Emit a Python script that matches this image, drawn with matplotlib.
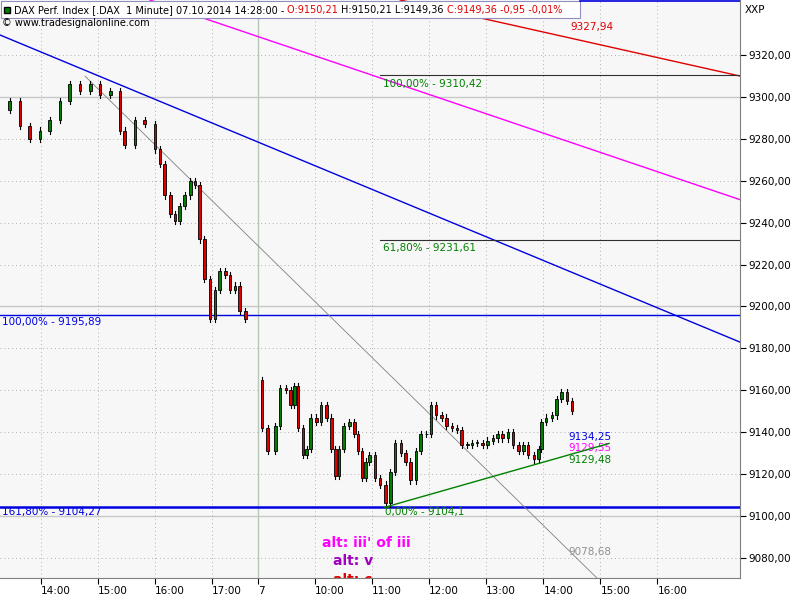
import matplotlib
matplotlib.use("Agg")
import matplotlib.pyplot as plt
import numpy as np

# Day 1 (06.10.2014): minutes relative to 14:00, close prices
day1_min = [-43,-33,-22,-12,-1,9,20,30,41,52,62,73,83,88,99,109,120,125,130,136,141,146,151,157,162,167,172,178,183,188,194,199,204,209,215]
day1_px = [9294,9298,9286,9280,9284,9289,9298,9306,9303,9306,9301,9303,9284,9277,9289,9287,9275,9268,9253,9244,9241,9248,9253,9260,9258,9232,9213,9194,9208,9217,9215,9208,9210,9198,9194]
# Day 2 (07.10.2014): minutes after 09:00, close prices
day2_min = [0,4,10,18,23,29,34,38,42,47,51,55,61,66,72,77,81,85,90,96,101,105,109,113,117,123,128,134,139,144,150,155,160,166,171,177,182,187,193,198,204,209,214,220,225,230,236,241,247,252,257,263,268,274,279,284,290,295,298,303,309,314,319,325,330]
day2_px = [9165,9142,9131,9143,9161,9160,9153,9162,9142,9129,9132,9147,9145,9153,9147,9132,9119,9132,9143,9145,9139,9131,9118,9126,9129,9118,9115,9106,9121,9135,9130,9126,9117,9131,9139,9139,9153,9148,9147,9143,9142,9141,9134,9134,9135,9135,9134,9136,9137,9139,9137,9140,9134,9131,9134,9129,9127,9132,9145,9147,9148,9156,9159,9155,9150]

yticks = [9080,9100,9120,9140,9160,9180,9200,9220,9240,9260,9280,9300,9320]
xtick_labels = ["14:00","15:00","16:00","17:00","7","10:00","11:00","12:00","13:00","14:00","15:00","16:00"]

def p1(m): return 1 + m/60.0
def p2(m): return 4.81 + m/60.0
xtick_pos = [p1(0),p1(60),p1(120),p1(180),p2(0),p2(60),p2(120),p2(180),p2(240),p2(300),p2(360),p2(420)]

fig = plt.figure(figsize=(8,6), dpi=100)
ax = fig.add_axes([0, 22/600, 740/800, 578/600])
ax.set_facecolor("#f7f7f7")
ax.set_xlim(0.28, 13.26)
ax.set_ylim(9070.4, 9346.3)

for y in yticks:
    if y % 100 == 0:
        ax.axhline(y, color="#c8c8c8", lw=1, zorder=1)
    else:
        ax.axhline(y, color="#b0b0b0", lw=0.7, ls=(0,(1,3)), zorder=1)
for x in xtick_pos:
    if x == p2(0):
        ax.axvline(x, color="#b8c8b8", lw=1, zorder=1)
    else:
        ax.axvline(x, color="#b0b0b0", lw=0.7, ls=(0,(1,3)), zorder=1)

def candles(ts, px, w):
    for i in range(1, len(px)):
        o, c = px[i-1], px[i]
        t = ts[i]
        hi, lo = max(o,c)+1.5, min(o,c)-1.5
        ax.plot([t,t],[lo,hi], color="black", lw=0.8, zorder=3)
        col = "#008000" if c >= o else "#e00000"
        ax.add_patch(plt.Rectangle((t-w/2, min(o,c)), w, max(abs(c-o),0.3), facecolor=col, edgecolor="black", lw=0.6, zorder=4))

candles([p1(m) for m in day1_min], day1_px, 0.045)
candles([p2(m) for m in day2_min], day2_px, 0.045)

# lines
ax.plot([0.28, 13.26], [9329.6, 9183], color="#0000e0", lw=1, zorder=2)
ax.plot([2.91, 13.26], [9346.3, 9251], color="#ff00ff", lw=1, zorder=2)
ax.plot([7.30, 13.26], [9346.3, 9310], color="#e00000", lw=1, zorder=2)
ax.plot([6.95, 13.26], [9310.42, 9310.42], color="#303030", lw=0.8, zorder=2)
ax.plot([6.95, 13.26], [9231.61, 9231.61], color="#303030", lw=0.8, zorder=2)
ax.axhline(9195.89, color="#0000e0", lw=1, zorder=2)
ax.axhline(9104.27, color="#0000e0", lw=1.8, zorder=2)
ax.plot([1.77, 10.75], [9310, 9070.4], color="#808080", lw=0.6, zorder=2)
ax.plot([7.02, 10.96], [9104.1, 9134.6], color="#008000", lw=1, zorder=5)

fs = 7.5
ax.text(10.28, 9332, "9327,94", color="#e00000", fontsize=fs)
ax.text(7.0, 9306.2, "100,00% - 9310,42", color="#008000", fontsize=fs, va="center")
ax.text(7.0, 9228, "61,80% - 9231,61", color="#008000", fontsize=fs, va="center")
ax.text(0.32, 9192.6, "100,00% - 9195,89", color="#0000e0", fontsize=fs, va="center")
ax.text(0.32, 9101.9, "161,80% - 9104,27", color="#0000e0", fontsize=fs, va="center")
ax.text(7.03, 9101.9, "0,00% - 9104,1", color="#008000", fontsize=fs, va="center")
ax.text(10.25, 9137.7, "9134,25", color="#0000e0", fontsize=fs, va="center")
ax.text(10.25, 9132.5, "9129,55", color="#ff00ff", fontsize=fs, va="center")
ax.text(10.25, 9126.8, "9129,48", color="#008000", fontsize=fs, va="center")
ax.text(10.25, 9082.8, "9078,68", color="#909090", fontsize=fs, va="center")
ax.text(5.93, 9087, "alt: iii' of iii", color="#ff00ff", fontsize=10, fontweight="bold", va="center")
ax.text(6.12, 9078.5, "alt: v", color="#a000c0", fontsize=10, fontweight="bold", va="center")
ax.text(6.12, 9069.5, "alt: c", color="#e00000", fontsize=10, fontweight="bold", va="center", clip_on=True)

# title box
ax.add_patch(plt.Rectangle((0.3, 9337.5), 10.15, 8.3, facecolor="white", edgecolor="#9090c0", lw=0.8, zorder=9))
ax.plot([10.45, 13.26], [9345.8, 9345.8], color="#0000e0", lw=1.2, zorder=9)
tfs = 7
title = ax.text(0.52, 9341.5, "DAX Perf. Index [.DAX  1 Minute] 07.10.2014 14:28:00 - ", fontsize=tfs, va="center", zorder=10)
fig.canvas.draw()
r = fig.canvas.get_renderer()
def chain(txt_obj, s, color):
    bb = txt_obj.get_window_extent(r)
    x = ax.transData.inverted().transform((bb.x1, bb.y0))[0]
    return ax.text(x, 9341.5, s, fontsize=tfs, color=color, va="center", zorder=10)
a = chain(title, "O:9150,21 ", "#e00000")
b = chain(a, "H:9150,21 L:9149,36 ", "black")
c = chain(b, "C:9149,36 -0,95 -0,01%", "#e00000")
ax.text(0.32, 9335.5, "© www.tradesignalonline.com", fontsize=7, va="center", zorder=10)
ax.plot([0.41], [9341.5], marker="s", color="#008000", ms=4, mec="black", zorder=10)
fig.text(745/800, 1-10/600, "XXP", fontsize=7.5, va="center")

ax.yaxis.tick_right()
ax.set_yticks(yticks)
ax.set_yticklabels([f"{v}" + ",00" for v in yticks], fontsize=7.5)
ax.set_xticks(xtick_pos)
ax.set_xticklabels(xtick_labels, fontsize=7.5, ha="left")
ax.tick_params(axis="x", length=4, pad=2)
ax.tick_params(axis="y", length=4, pad=2)
for s in ["top", "left"]:
    ax.spines[s].set_visible(False)
ax.spines["right"].set_color("#808080")
ax.spines["bottom"].set_color("#808080")

fig.savefig("out.png", dpi=100, facecolor="white")
